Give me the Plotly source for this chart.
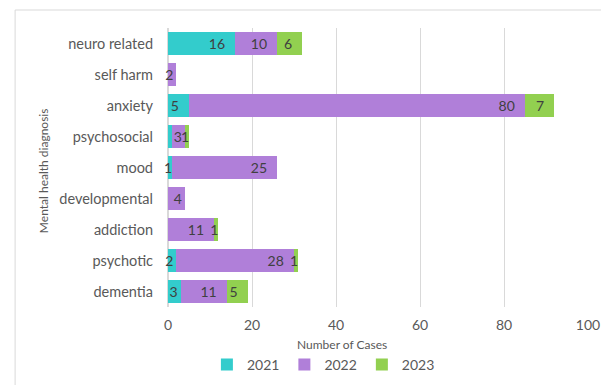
import plotly.graph_objects as go

categories = ["neuro related", "self harm", "anxiety", "psychosocial", "mood",
              "developmental", "addiction", "psychotic", "dementia"]
y2021 = [16, 0, 5, 1, 1, 0, 0, 2, 3]
y2022 = [10, 2, 80, 3, 25, 4, 11, 28, 11]
y2023 = [6, 0, 7, 1, 0, 0, 1, 1, 5]
show2021 = [True, True, True, False, True, True, True, True, True]
x_ticks = [0, 20, 40, 60, 80, 100]

NBSP = "\u00a0"

def lab(vals, show=None):
    out = []
    for i, v in enumerate(vals):
        if not v or (show is not None and not show[i]):
            out.append("")
        elif v >= 5:
            out.append(str(v) + NBSP * 2)
        else:
            out.append(str(v))
    return out

series = [
    ("2021", y2021, lab(y2021, show2021), "#33CCCC"),
    ("2022", y2022, lab(y2022), "#B07FD9"),
    ("2023", y2023, lab(y2023), "#92D050"),
]

fig = go.Figure()
for name, vals, txt, col in series:
    fig.add_trace(go.Bar(
        y=categories, x=vals, name=name, orientation="h",
        marker=dict(color=col, line=dict(width=0)),
        text=txt, textposition="inside", insidetextanchor="end", textangle=0,
        textfont=dict(color="#404040", size=14, family="Lato"),
        constraintext="none", cliponaxis=False,
    ))

fig.update_layout(
    barmode="stack", bargap=0.26,
    width=601, height=385,
    margin=dict(l=168, r=13, t=28, b=78, autoexpand=False),
    paper_bgcolor="white", plot_bgcolor="white",
    font=dict(family="Lato", color="#595959", size=14),
    uniformtext=dict(minsize=14, mode="show"),
    showlegend=True,
    legend=dict(orientation="h", x=0.37, xanchor="center", y=-0.15, yanchor="top",
                font=dict(size=14, color="#595959"), itemwidth=30,
                traceorder="normal"),
    xaxis=dict(range=[0, 100], tickvals=x_ticks, showgrid=True, gridcolor="#D9D9D9",
               gridwidth=1, zeroline=True, zerolinecolor="#D9D9D9", ticks="",
               ticklabelstandoff=8, automargin=False,
               tickfont=dict(size=14, color="#595959")),
    yaxis=dict(categoryorder="array", categoryarray=categories, autorange="reversed",
               showgrid=False, ticks="", ticklabelstandoff=14, automargin=False,
               tickfont=dict(size=14.5, color="#595959")),
    annotations=[
        dict(text="Number of Cases", xref="paper", yref="paper", x=0.415, y=-0.135,
             xanchor="center", yanchor="middle", showarrow=False,
             font=dict(size=12, color="#595959")),
        dict(text="Mental health diagnosis", xref="paper", yref="paper", x=-0.298, y=0.49,
             xanchor="center", yanchor="middle", textangle=-90, showarrow=False,
             font=dict(size=12, color="#595959")),
    ],
    shapes=[dict(type="rect", xref="paper", yref="paper",
                 x0=-0.364, x1=1.2, y0=-0.5, y1=1.0645,
                 line=dict(color="#D9D9D9", width=1), layer="below")],
)

fig.write_html("out.html", config={"displayModeBar": False},
               post_script="document.body.style.margin='0px';")
